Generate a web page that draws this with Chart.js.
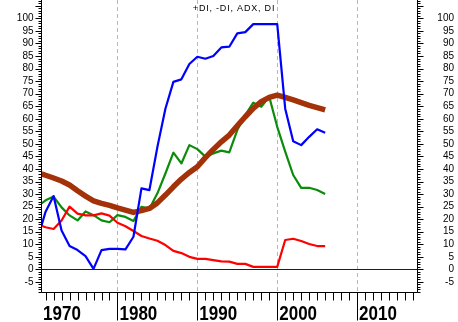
<!DOCTYPE html>
<html>
<head>
<meta charset="utf-8">
<script src="https://cdn.jsdelivr.net/npm/chart.js@4/dist/chart.umd.min.js"></script>
<style>
  html, body { margin: 0; padding: 0; background: #ffffff; }
  #wrap { width: 458px; height: 322px; }
</style>
</head>
<body>
<div id="wrap"><canvas id="c" width="458" height="322"></canvas></div>
<script>
// Yearly directional movement readings
const years = [1970.5, 1971, 1972, 1973, 1974, 1975, 1976, 1977, 1978, 1979,
  1980, 1981, 1982, 1983, 1984, 1985, 1986, 1987, 1988, 1989,
  1990, 1991, 1992, 1993, 1994, 1995, 1996, 1997, 1998, 1999,
  2000, 2001, 2002, 2003, 2004, 2005, 2006];

const plusDI = [17.6, 23.0, 29.2, 15.5, 9.3, 7.7, 5.3, 0.2, 7.7, 8.2,
  8.2, 8.0, 13.0, 32.3, 31.6, 48.8, 64.0, 74.7, 75.7, 81.8,
  84.7, 83.9, 85.0, 88.4, 88.7, 94.0, 94.5, 97.7, 97.7, 97.7,
  97.7, 64.0, 51.0, 49.5, 52.8, 55.8, 54.4];

const minusDI = [17.4, 16.8, 16.1, 19.5, 25.0, 22.2, 21.5, 21.5, 22.3, 21.4,
  18.6, 17.2, 15.3, 13.3, 12.3, 11.4, 9.7, 7.4, 6.5, 5.0,
  4.2, 4.2, 3.7, 3.2, 3.1, 2.2, 2.2, 1.0, 1.0, 1.0,
  1.0, 11.7, 12.2, 11.3, 10.1, 9.3, 9.3];

const diLine = [26.3, 27.5, 29.0, 24.7, 21.5, 19.5, 23.1, 21.6, 19.5, 18.8,
  21.6, 20.9, 19.3, 24.9, 24.2, 30.3, 38.2, 46.5, 42.2, 49.5,
  47.9, 44.9, 46.2, 47.3, 46.6, 55.5, 61.5, 66.4, 64.8, 68.8,
  56.8, 46.9, 37.6, 32.5, 32.5, 31.6, 30.0];

const adx = [38.0, 37.5, 36.4, 35.2, 33.6, 31.3, 29.2, 27.3, 26.3, 25.5,
  24.5, 23.6, 22.7, 23.4, 24.3, 26.5, 29.6, 32.9, 36.0, 38.6,
  40.9, 44.5, 47.8, 50.8, 53.5, 57.2, 60.8, 64.1, 66.8, 68.5,
  69.4, 68.5, 67.5, 66.4, 65.3, 64.4, 63.5];

const valueTicks = [-5, 0, 5, 10, 15, 20, 25, 30, 35, 40, 45, 50,
  55, 60, 65, 70, 75, 80, 85, 90, 95, 100];
const decadeYears = [1970, 1980, 1990, 2000, 2010];
const decadeLabels = ['1970', '1980', '1990', '2000', '2010'];
const titleText = '+DI, -DI, ADX, DI';

const X_MIN = 1970.55, X_MAX = 2017.5;
const Y_MIN = -9, Y_MAX = 107.3;

function pts(vals) {
  return years.map((yr, i) => ({ x: yr, y: vals[i] }));
}

const axisPainter = {
  id: 'axisPainter',
  beforeDatasetsDraw(chart) {
    const { ctx, chartArea: a, scales } = chart;
    const xs = scales.x, ys = scales.y;
    ctx.save();
    // dashed decade grid
    ctx.strokeStyle = '#b8b8b8';
    ctx.lineWidth = 1;
    ctx.setLineDash([4, 3]);
    decadeYears.forEach(d => {
      if (d <= X_MIN || d >= X_MAX) return;
      const px = Math.round(xs.getPixelForValue(d)) + 0.5;
      ctx.beginPath();
      ctx.moveTo(px, a.top);
      ctx.lineTo(px, a.bottom);
      ctx.stroke();
    });
    ctx.setLineDash([]);
    // zero reference line
    const zy = Math.round(ys.getPixelForValue(0)) + 0.5;
    ctx.strokeStyle = '#0000ff';
    ctx.beginPath();
    ctx.moveTo(a.left, zy);
    ctx.lineTo(a.right, zy);
    ctx.stroke();
    ctx.restore();
  },
  afterDraw(chart) {
    const { ctx, chartArea: a, scales } = chart;
    const xs = scales.x, ys = scales.y;
    ctx.save();
    ctx.strokeStyle = '#000000';
    ctx.fillStyle = '#000000';
    ctx.lineWidth = 1;
    const L = Math.round(a.left) - 0.5;
    const R = Math.round(a.right) + 0.5;
    const B = Math.round(a.bottom) + 0.5;
    // axis frame: left, bottom, right
    ctx.beginPath();
    ctx.moveTo(L, 0); ctx.lineTo(L, B);
    ctx.lineTo(R, B); ctx.lineTo(R, 0);
    ctx.stroke();

    // value ticks every unit, longer every five
    ctx.beginPath();
    for (let v = Math.ceil(Y_MIN); v <= Math.floor(Y_MAX); v++) {
      const py = Math.round(ys.getPixelForValue(v)) + 0.5;
      const major = v % 5 === 0;
      const len = major ? 6 : 3;
      ctx.moveTo(L, py); ctx.lineTo(L - len, py);
      ctx.moveTo(R, py); ctx.lineTo(R + len, py);
    }
    ctx.stroke();

    // value labels on both sides
    ctx.font = '10px "Liberation Sans", Arial, sans-serif';
    ctx.textBaseline = 'middle';
    valueTicks.forEach(v => {
      const py = ys.getPixelForValue(v);
      ctx.textAlign = 'right';
      ctx.fillText(String(v), L - 8, py);
      ctx.fillText(String(v), 454, py);
    });

    // year ticks
    ctx.beginPath();
    for (let yr = Math.ceil(X_MIN); yr <= Math.floor(X_MAX); yr++) {
      const px = Math.round(xs.getPixelForValue(yr)) + 0.5;
      const len = yr % 10 === 0 ? 28 : 8;
      ctx.moveTo(px, B); ctx.lineTo(px, B + len);
    }
    ctx.stroke();

    // decade labels, bold and narrow
    ctx.font = 'bold 21px "Liberation Sans", Arial, sans-serif';
    ctx.textAlign = 'left';
    ctx.textBaseline = 'alphabetic';
    decadeYears.forEach((d, i) => {
      let px = xs.getPixelForValue(d) + 2;
      if (px < a.left + 1) px = a.left + 1;
      ctx.save();
      ctx.translate(px, 320);
      ctx.scale(0.81, 1);
      ctx.fillText(decadeLabels[i], 0, 0);
      ctx.restore();
    });

    // title
    ctx.font = '9px "Liberation Sans", Arial, sans-serif';
    ctx.textAlign = 'center';
    ctx.textBaseline = 'middle';
    if ('letterSpacing' in ctx) ctx.letterSpacing = '0.8px';
    ctx.fillText(titleText, 234, 9);
    ctx.restore();
  }
};

new Chart(document.getElementById('c'), {
  type: 'line',
  data: {
    datasets: [
      { label: '+DI', data: pts(plusDI), borderColor: '#0000ff', borderWidth: 2.2 },
      { label: '-DI', data: pts(minusDI), borderColor: '#ff0000', borderWidth: 2.2 },
      { label: 'ADX', data: pts(adx), borderColor: '#a33208', borderWidth: 5.5 },
      { label: 'DI', data: pts(diLine), borderColor: '#0b8c0b', borderWidth: 2.2 }
    ]
  },
  options: {
    responsive: false,
    animation: false,
    events: [],
    layout: { padding: 0 },
    elements: {
      point: { radius: 0 },
      line: { tension: 0, borderJoinStyle: 'round', borderCapStyle: 'butt', fill: false }
    },
    plugins: { legend: { display: false }, title: { display: false }, tooltip: { enabled: false } },
    scales: {
      x: {
        type: 'linear', min: X_MIN, max: X_MAX,
        grid: { display: false }, border: { display: false },
        ticks: { display: false },
        afterFit(s) { s.height = 30; }
      },
      y: {
        type: 'linear', position: 'left', min: Y_MIN, max: Y_MAX,
        grid: { display: false }, border: { display: false },
        ticks: { display: false },
        afterFit(s) { s.width = 42; }
      },
      y2: {
        type: 'linear', position: 'right', min: Y_MIN, max: Y_MAX,
        grid: { display: false }, border: { display: false },
        ticks: { display: false },
        afterFit(s) { s.width = 41; }
      }
    }
  },
  plugins: [axisPainter]
});
</script>
</body>
</html>
